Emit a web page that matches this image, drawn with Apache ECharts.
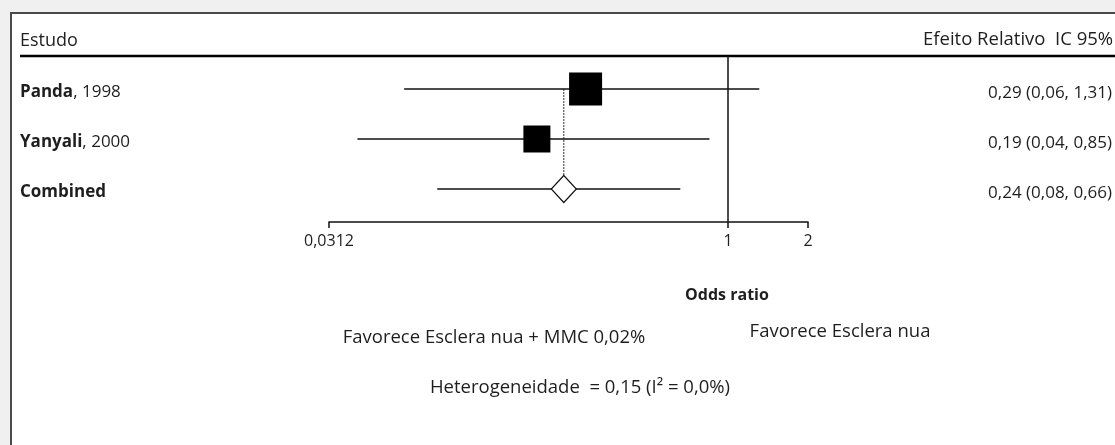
<!DOCTYPE html>
<html>
<head>
<meta charset="utf-8">
<script src="https://cdn.jsdelivr.net/npm/echarts@6/dist/echarts.min.js"></script>
<style>
  html, body { margin: 0; padding: 0; background: #f0f0f0; }
  #chart { width: 1115px; height: 445px; }
</style>
</head>
<body>
<div id="chart"></div>
<script>
// Forest plot data: odds ratios with 95% confidence intervals
const studyNames = ['Panda', 'Yanyali', 'Combined'];
const studyYears = ['1998', '2000', ''];
const oddsRatio = [0.29, 0.19, 0.24];
const ciLower = [0.06, 0.04, 0.08];
const ciUpper = [1.31, 0.85, 0.66];
const pooledRow = 2;
const xTickValues = [0.03125, 1, 2];
const xTickLabels = ['0,0312', '1', '2'];

// Box size for each individual study (pixels)
const boxSizes = [33, 27];
const FONT = '"Open Sans", "Noto Sans", sans-serif';
const INK = '#1e1e1e';
const rows = studyNames.map((_, i) => i);

const fmt = v => v.toFixed(2).replace('.', ',');
const effectText = i => fmt(oddsRatio[i]) + ' (' + fmt(ciLower[i]) + ', ' + fmt(ciUpper[i]) + ')';

const chart = echarts.init(document.getElementById('chart'));

const option = {
  backgroundColor: '#f0f0f0',
  animation: false,
  textStyle: { fontFamily: FONT },
  grid: { left: 329, width: 480, top: 56, height: 166 },
  xAxis: {
    type: 'log',
    logBase: 2,
    min: 0.03125,
    max: 2,
    position: 'bottom',
    axisLine: { show: true, onZero: false, lineStyle: { color: '#111', width: 1.5 } },
    axisTick: { show: true, customValues: xTickValues, length: 6, lineStyle: { color: '#111', width: 1.5 } },
    axisLabel: {
      customValues: xTickValues,
      formatter: v => {
        const k = xTickValues.findIndex(t => Math.abs(t - v) < 1e-9);
        return k >= 0 ? xTickLabels[k] : '';
      },
      margin: 11,
      fontSize: 16,
      color: INK,
      fontFamily: FONT
    },
    splitLine: { show: false }
  },
  yAxis: [
    {
      type: 'value',
      inverse: true,
      min: -0.66,
      max: 2.66,
      position: 'left',
      axisLine: { show: false },
      axisTick: { show: false },
      splitLine: { show: false },
      axisLabel: {
        customValues: rows,
        align: 'left',
        margin: 309,
        padding: [7, 0, 0, 0],
        formatter: v => {
          const i = Math.round(v);
          return '{b|' + studyNames[i] + '}' + (studyYears[i] ? '{r|, ' + studyYears[i] + '}' : '');
        },
        rich: {
          b: { fontSize: 17, fontWeight: 'bold', color: INK, fontFamily: FONT },
          r: { fontSize: 17, color: INK, fontFamily: FONT }
        }
      }
    },
    {
      type: 'value',
      inverse: true,
      min: -0.66,
      max: 2.66,
      position: 'right',
      axisLine: { show: false },
      axisTick: { show: false },
      splitLine: { show: false },
      axisLabel: {
        customValues: rows,
        align: 'right',
        margin: 304,
        formatter: v => '{v|' + effectText(Math.round(v)) + '}',
        rich: {
          v: { fontSize: 17, color: INK, fontFamily: FONT, padding: [9, 0, 0, 0] }
        }
      }
    }
  ],
  graphic: [
    {
      type: 'rect', z: -10, silent: true,
      shape: { x: 11, y: 13, width: 1200, height: 500 },
      style: { fill: '#ffffff', stroke: '#4a4a4a', lineWidth: 2 }
    },
    {
      type: 'line', silent: true,
      shape: { x1: 20, y1: 56, x2: 1115, y2: 56 },
      style: { stroke: '#000', lineWidth: 2.5 }
    },
    {
      type: 'text', silent: true,
      style: { text: 'Estudo', x: 20, y: 41, textVerticalAlign: 'middle', font: '18px ' + FONT, fill: INK }
    },
    {
      type: 'text', silent: true,
      style: { text: 'Efeito Relativo  IC 95%', x: 923, y: 40, textVerticalAlign: 'middle', font: '18.5px ' + FONT, fill: INK }
    },
    {
      type: 'text', silent: true,
      style: { text: 'Odds ratio', x: 727, y: 295, textAlign: 'center', textVerticalAlign: 'middle', font: 'bold 16px ' + FONT, fill: INK }
    },
    {
      type: 'text', silent: true,
      style: { text: 'Favorece Esclera nua + MMC 0,02%', x: 494, y: 338, textAlign: 'center', textVerticalAlign: 'middle', font: '18.5px ' + FONT, fill: INK }
    },
    {
      type: 'text', silent: true,
      style: { text: 'Favorece Esclera nua', x: 840, y: 332, textAlign: 'center', textVerticalAlign: 'middle', font: '18.5px ' + FONT, fill: INK }
    },
    {
      type: 'text', silent: true,
      style: { text: 'Heterogeneidade  = 0,15 (I² = 0,0%)', x: 580, y: 388, textAlign: 'center', textVerticalAlign: 'middle', font: '18.5px ' + FONT, fill: INK }
    }
  ],
  series: [
    {
      // dotted guide at the pooled estimate
      type: 'line',
      data: [[oddsRatio[pooledRow], 0], [oddsRatio[pooledRow], pooledRow]],
      symbol: 'none',
      silent: true,
      lineStyle: { color: '#333', width: 1, type: [2, 1] },
      z: 1
    },
    {
      // confidence interval whiskers
      type: 'custom',
      silent: true,
      data: rows.map(i => [ciLower[i], ciUpper[i], i]),
      encode: { x: [0, 1], y: 2 },
      renderItem: (params, api) => {
        const a = api.coord([api.value(0), api.value(2)]);
        const b = api.coord([api.value(1), api.value(2)]);
        return {
          type: 'line',
          shape: { x1: a[0], y1: a[1], x2: b[0], y2: b[1] },
          style: { stroke: '#111', lineWidth: 1.5 }
        };
      },
      markLine: {
        silent: true,
        symbol: 'none',
        label: { show: false },
        lineStyle: { color: '#111', width: 1.5, type: 'solid' },
        data: [{ xAxis: 1 }]
      },
      z: 2
    },
    {
      // study point estimates
      type: 'scatter',
      silent: true,
      symbol: 'rect',
      symbolSize: (val, p) => boxSizes[p.dataIndex],
      itemStyle: { color: '#000', opacity: 1 },
      data: rows.filter(i => i !== pooledRow).map(i => [oddsRatio[i], i]),
      z: 3
    },
    {
      // pooled estimate
      type: 'scatter',
      silent: true,
      symbol: 'diamond',
      symbolSize: [25, 27],
      itemStyle: { color: '#fff', borderColor: '#111', borderWidth: 1.2, opacity: 1 },
      data: [[oddsRatio[pooledRow], pooledRow]],
      z: 4
    }
  ]
};

chart.setOption(option);
</script>
</body>
</html>
